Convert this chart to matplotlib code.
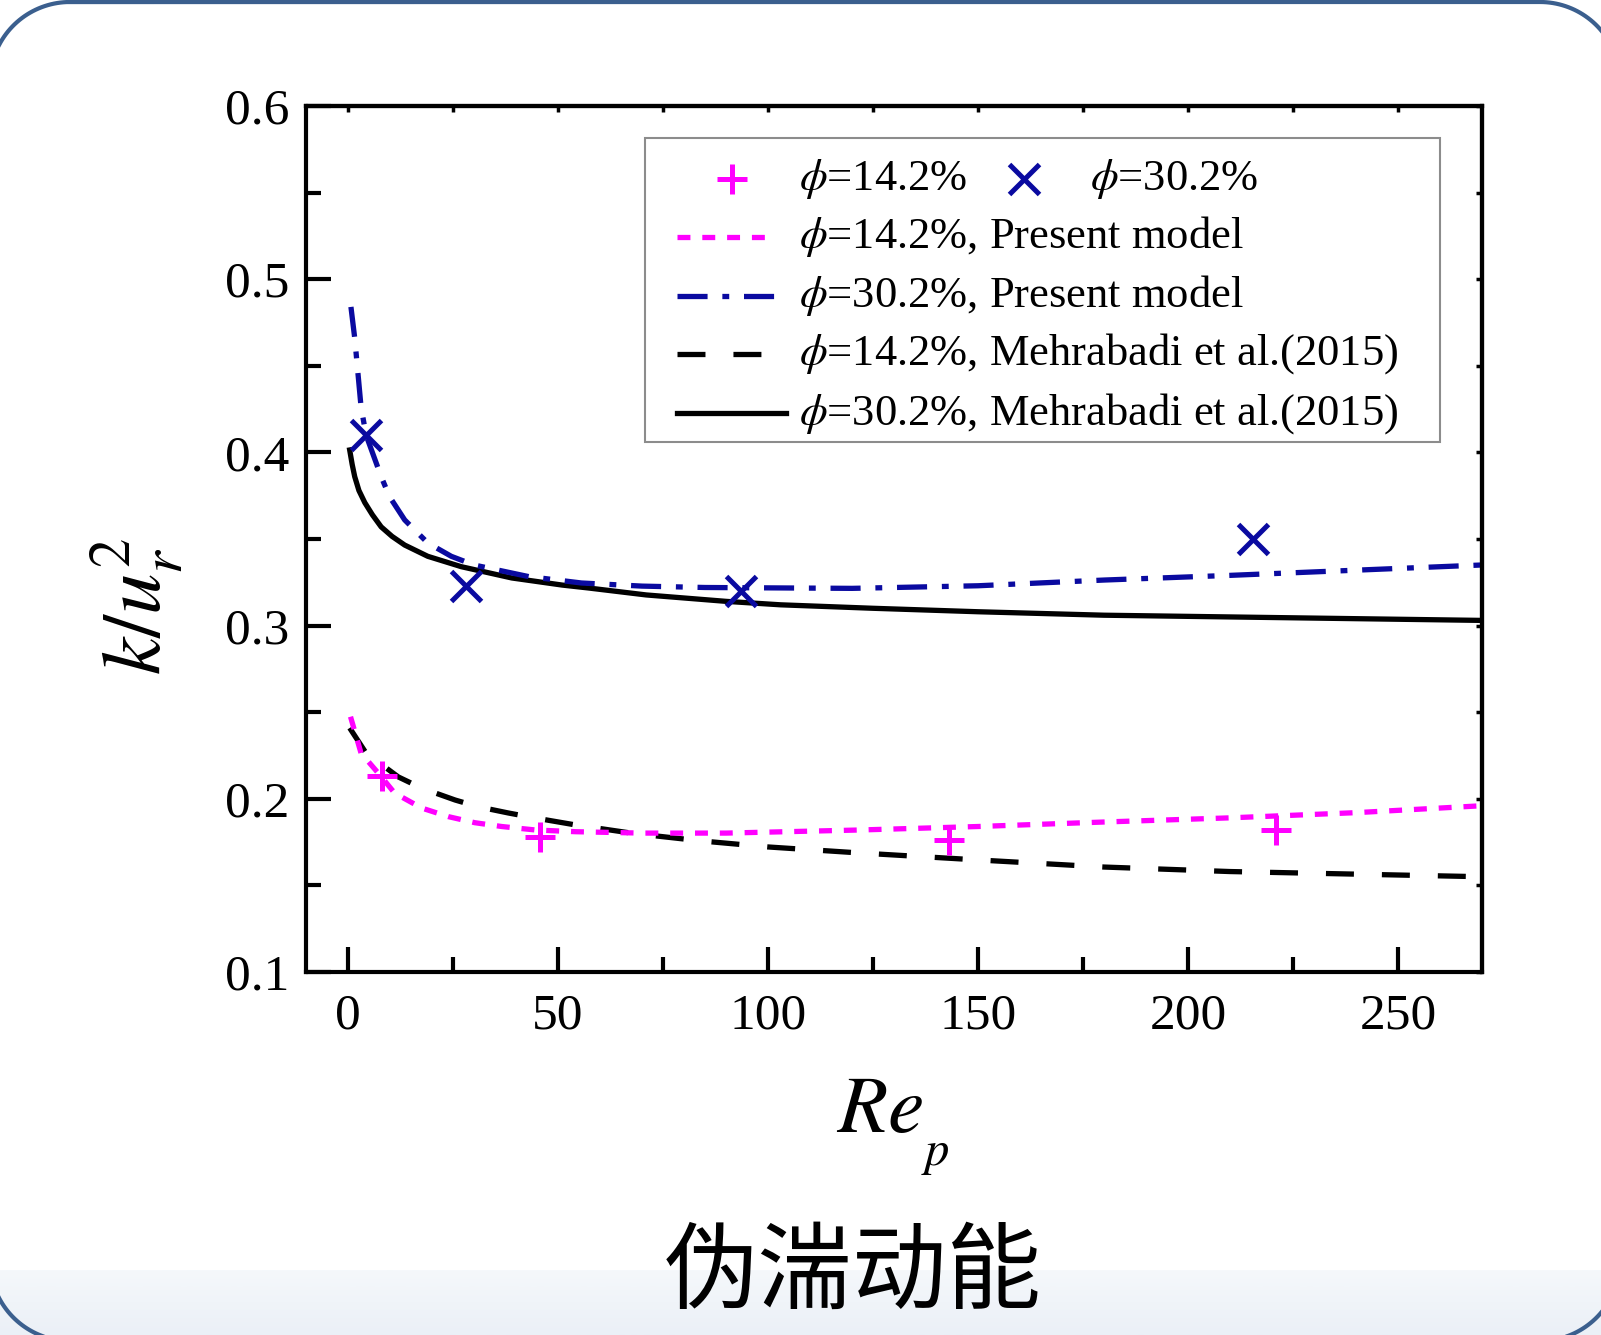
import numpy as np
import matplotlib
matplotlib.use('Agg')
import matplotlib.pyplot as plt
from matplotlib.lines import Line2D
from matplotlib.patches import Rectangle
from matplotlib.ticker import MultipleLocator
from matplotlib.colors import LinearSegmentedColormap

plt.rcParams['mathtext.fontset'] = 'stix'
plt.rcParams['font.family'] = ['Liberation Serif', 'DejaVu Serif']

# measured points (symbols)
re_pts_142 = [8.1, 45.6, 143.0, 221.0]
k_pts_142 = [0.213, 0.178, 0.176, 0.182]
re_pts_302 = [4.3, 28.1, 93.6, 215.5]
k_pts_302 = [0.410, 0.323, 0.320, 0.350]

# present model curves
re_model_142 = [0.6, 3.1, 7.6, 11.1, 17.5, 23.9, 30.2, 36.6, 44.6, 54.2, 70, 90, 122, 150,
                180, 210, 240, 270]
k_model_142 = [0.2474, 0.2264, 0.2137, 0.2033, 0.1947, 0.1897, 0.1862, 0.184, 0.182, 0.181,
               0.1802, 0.1802, 0.182, 0.184, 0.1866, 0.189, 0.192, 0.196]
re_model_302 = [0.7, 1.6, 3.1, 4.3, 7.9, 9.9, 13.5, 19, 24.6, 30, 43, 55.6, 70, 85, 99,
                120, 150, 180, 210, 240, 270]
k_model_302 = [0.484, 0.466, 0.4264, 0.410, 0.386, 0.3744, 0.361, 0.3477, 0.340, 0.335,
               0.3283, 0.3246, 0.3228, 0.322, 0.3218, 0.3215, 0.323, 0.3263, 0.329, 0.332, 0.335]

# Mehrabadi et al. (2015) curves
re_meh_142 = [0.4, 4.3, 12, 17.5, 25.5, 31, 38.2, 44.6, 54.2, 68, 84, 100, 122, 150, 180,
              210, 240, 270]
k_meh_142 = [0.2409, 0.2264, 0.2126, 0.2062, 0.1993, 0.1954, 0.1918, 0.1889, 0.1849, 0.1800,
             0.1757, 0.1722, 0.1687, 0.1647, 0.1606, 0.158, 0.1565, 0.155]
re_meh_302 = [0.4, 1.0, 1.6, 2.6, 4.0, 5.8, 7.9, 10.5, 13.5, 19, 27, 39, 51, 57.3, 71, 90,
              103, 125, 150, 180, 210, 240, 270]
k_meh_302 = [0.4014, 0.393, 0.386, 0.378, 0.371, 0.364, 0.357, 0.3515, 0.3465, 0.340, 0.334,
             0.3275, 0.3234, 0.3217, 0.3177, 0.314, 0.312, 0.310, 0.308, 0.306, 0.305, 0.304,
             0.303]

xticks = [0, 50, 100, 150, 200, 250]
xtick_labels = ['0', '50', '100', '150', '200', '250']
yticks = [0.1, 0.2, 0.3, 0.4, 0.5, 0.6]
ytick_labels = ['0.1', '0.2', '0.3', '0.4', '0.5', '0.6']

magenta = '#FF00FF'
navy = '#0A0AA0'

W, H = 1601, 1335
fig = plt.figure(figsize=(W / 100, H / 100), dpi=100)

# background: bottom band and rounded frame, in pixel units (y up)
bg = fig.add_axes([0, 0, 1, 1], zorder=-1)
band = LinearSegmentedColormap.from_list('band', ['#F5F8FB', '#EBF0F7'])
bg.imshow(np.linspace(0, 1, 64)[:, None], cmap=band, aspect='auto',
          extent=[0, W, 0, 65], interpolation='bilinear')


def rounded_outline(x0, y0, x1, y1, r, n=40):
    pts = []
    corners = [(x1 - r, y1 - r, 0), (x0 + r, y1 - r, 90), (x0 + r, y0 + r, 180), (x1 - r, y0 + r, 270)]
    for cx, cy, a0 in corners:
        t = np.radians(np.linspace(a0, a0 + 90, n))
        pts.append(np.column_stack([cx + r * np.cos(t), cy + r * np.sin(t)]))
    pts = np.vstack(pts + [pts[0][:1]])
    return pts[:, 0], pts[:, 1]


fx, fy = rounded_outline(-10, H - 1341, 1620, H - 2, 80)
bg.plot(fx, fy, color='#3B5F8E', lw=3, solid_joinstyle='round')
bg.set_xlim(0, W)
bg.set_ylim(0, H)
bg.axis('off')

ax = fig.add_axes([306 / W, 1 - 972 / H, 1176 / W, 866 / H])
ax.set_facecolor('none')

lw = 3.8
dash_142 = (2.45, 2.25)
dash_302 = (5.7, 2.8, 1.3, 2.8)
dash_meh = (5.3, 5.3)
ax.plot(re_meh_302, k_meh_302, color='black', lw=lw)
ax.plot(re_meh_142, k_meh_142, color='black', lw=lw, dashes=dash_meh)
ax.plot(re_model_302, k_model_302, color=navy, lw=lw, dashes=dash_302)
ax.plot(re_model_142, k_model_142, color=magenta, lw=lw, dashes=dash_142)
ax.plot(re_pts_142, k_pts_142, ls='none', marker='+', ms=22, mew=3.6, color=magenta)
ax.plot(re_pts_302, k_pts_302, ls='none', marker='x', ms=21, mew=3.6, color=navy)

ax.set_xlim(-10, 270)
ax.set_ylim(0.1, 0.6)
ax.set_xticks(xticks, xtick_labels)
ax.set_yticks(yticks, ytick_labels)
ax.xaxis.set_minor_locator(MultipleLocator(25))
ax.yaxis.set_minor_locator(MultipleLocator(0.05))
ax.tick_params(which='major', direction='in', length=18, width=3, labelsize=37)
ax.tick_params(which='minor', direction='in', length=11, width=3)
ax.tick_params(axis='x', pad=15)
ax.tick_params(axis='y', pad=12)
for s in ax.spines.values():
    s.set_linewidth(3)

top = ax.secondary_xaxis('top')
top.set_xticks(xticks)
top.xaxis.set_minor_locator(MultipleLocator(25))
top.tick_params(which='both', direction='in', length=4, width=2.5, labeltop=False)
top.spines['top'].set_linewidth(3)
right = ax.secondary_yaxis('right')
right.set_yticks(yticks)
right.yaxis.set_minor_locator(MultipleLocator(0.05))
right.tick_params(which='both', direction='in', length=4, width=2.5, labelright=False)
right.spines['right'].set_linewidth(3)

# legend (drawn by hand to get the two-symbol first row)
ax.add_patch(Rectangle((0.288, 0.612), 0.676, 0.351, transform=ax.transAxes,
                       fill=False, ec='#8C8C8C', lw=1.5, zorder=5))
rows_y = [0.916, 0.849, 0.781, 0.714, 0.645]
tx = 0.4196
fs = 32
ax.add_line(Line2D([0.3623], [rows_y[0]], transform=ax.transAxes, ls='none', marker='+',
                   ms=22, mew=3.6, color=magenta))
ax.text(tx, rows_y[0], r'$\phi$=14.2%', transform=ax.transAxes, fontsize=fs, va='center')
ax.add_line(Line2D([0.6107], [rows_y[0]], transform=ax.transAxes, ls='none', marker='x',
                   ms=21, mew=3.6, color=navy))
ax.text(0.667, rows_y[0], r'$\phi$=30.2%', transform=ax.transAxes, fontsize=fs, va='center')

handles = [
    dict(color=magenta, dashes=dash_142, x1=0.393, label=r'$\phi$=14.2%, Present model'),
    dict(color=navy, dashes=dash_302, x1=0.404, label=r'$\phi$=30.2%, Present model'),
    dict(color='black', dashes=dash_meh, x1=0.389, label=r'$\phi$=14.2%, Mehrabadi et al.(2015)'),
    dict(color='black', dashes=None, x1=0.408, label=r'$\phi$=30.2%, Mehrabadi et al.(2015)'),
]
for y, h in zip(rows_y[1:], handles):
    ln = Line2D([0.3155, h['x1']], [y, y], transform=ax.transAxes, color=h['color'], lw=lw)
    if h['dashes'] is not None:
        ln.set_dashes(h['dashes'])
    ax.add_line(ln)
    ax.text(tx, y, h['label'], transform=ax.transAxes, fontsize=fs, va='center')

fig.text(138 / W, 1 - 607 / H, r'$k/u_r^2$', rotation=90, fontsize=60, ha='center', va='center')
fig.text(836 / W, 1 - 1132 / H, r'$Re$', fontsize=59, ha='left', va='baseline')
fig.text(921 / W, 1 - 1165 / H, r'$p$', fontsize=35, ha='left', va='baseline')
fig.text(853 / W, 1 - 1274 / H, '伪湍动能', fontsize=68, family=['Noto Sans CJK SC'],
         ha='center', va='center')

fig.savefig('out.png', dpi=100)
